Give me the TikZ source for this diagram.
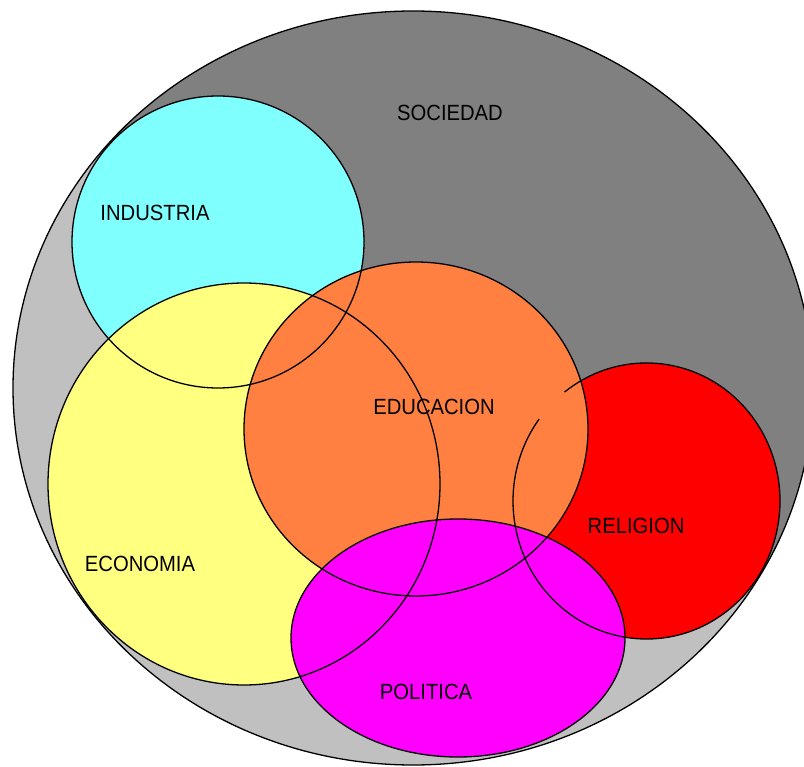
\documentclass[tikz,border=0pt]{standalone}
\usepackage{fontspec}
\setmainfont{Liberation Sans}[FakeStretch=0.92]
\definecolor{lightgr}{HTML}{C0C0C0}
\definecolor{darkgr}{HTML}{808080}
\definecolor{indcol}{HTML}{80FFFF}
\definecolor{ecocol}{HTML}{FFFF80}
\definecolor{educol}{HTML}{FF8040}
\definecolor{relcol}{HTML}{FF0000}
\definecolor{polcol}{HTML}{FF00FF}
\begin{document}
\begin{tikzpicture}[x=1pt,y=-1pt,
  edge/.style={draw=black,line width=1.3pt},
  lbl/.style={font=\fontsize{22}{24}\selectfont,text=black,inner sep=0pt}]
\useasboundingbox (0,0) rectangle (804,767);
% society: light grey disc, dark grey flood-filled upper part
\fill[lightgr] (413,388) ellipse [x radius=400, y radius=377];
\fill[darkgr] (413,388) ++(-141.5:400 and 377)
   arc [start angle=-141.5, end angle=28, x radius=400, y radius=377]
   -- (646,501) -- (420,430) -- (218,242) -- cycle;
\draw[edge] (413,388) ellipse [x radius=400, y radius=377];
% coloured sets, back to front
\fill[indcol] (218,242) circle [radius=146];
\fill[ecocol] (244,484) ellipse [x radius=196, y radius=201];
\fill[relcol] (646.5,501) ellipse [x radius=133.5, y radius=138];
\fill[educol] (416,429) ellipse [x radius=172, y radius=167];
\fill[polcol] (458,638) ellipse [x radius=167, y radius=119];
% outlines
\draw[edge] (218,242) circle [radius=146];
\draw[edge] (244,484) ellipse [x radius=196, y radius=201];
\draw[edge] (416,429) ellipse [x radius=172, y radius=167];
\draw[edge] (646.5,501) ++(-127.9:133.5 and 138)
   arc [start angle=-127.9, end angle=216.4, x radius=133.5, y radius=138];
\draw[edge] (458,638) ellipse [x radius=167, y radius=119];
% labels
\node[lbl] (soc) at (450,113) {SOCIEDAD};
\node[lbl] (ind) at (155,213) {INDUSTRIA};
\node[lbl] (edu) at (434,407) {EDUCACION};
\node[lbl] (eco) at (140,564) {ECONOMIA};
\node[lbl] (rel) at (636,526) {RELIGION};
\node[lbl] (pol) at (426,692) {POLITICA};
\end{tikzpicture}
\end{document}
